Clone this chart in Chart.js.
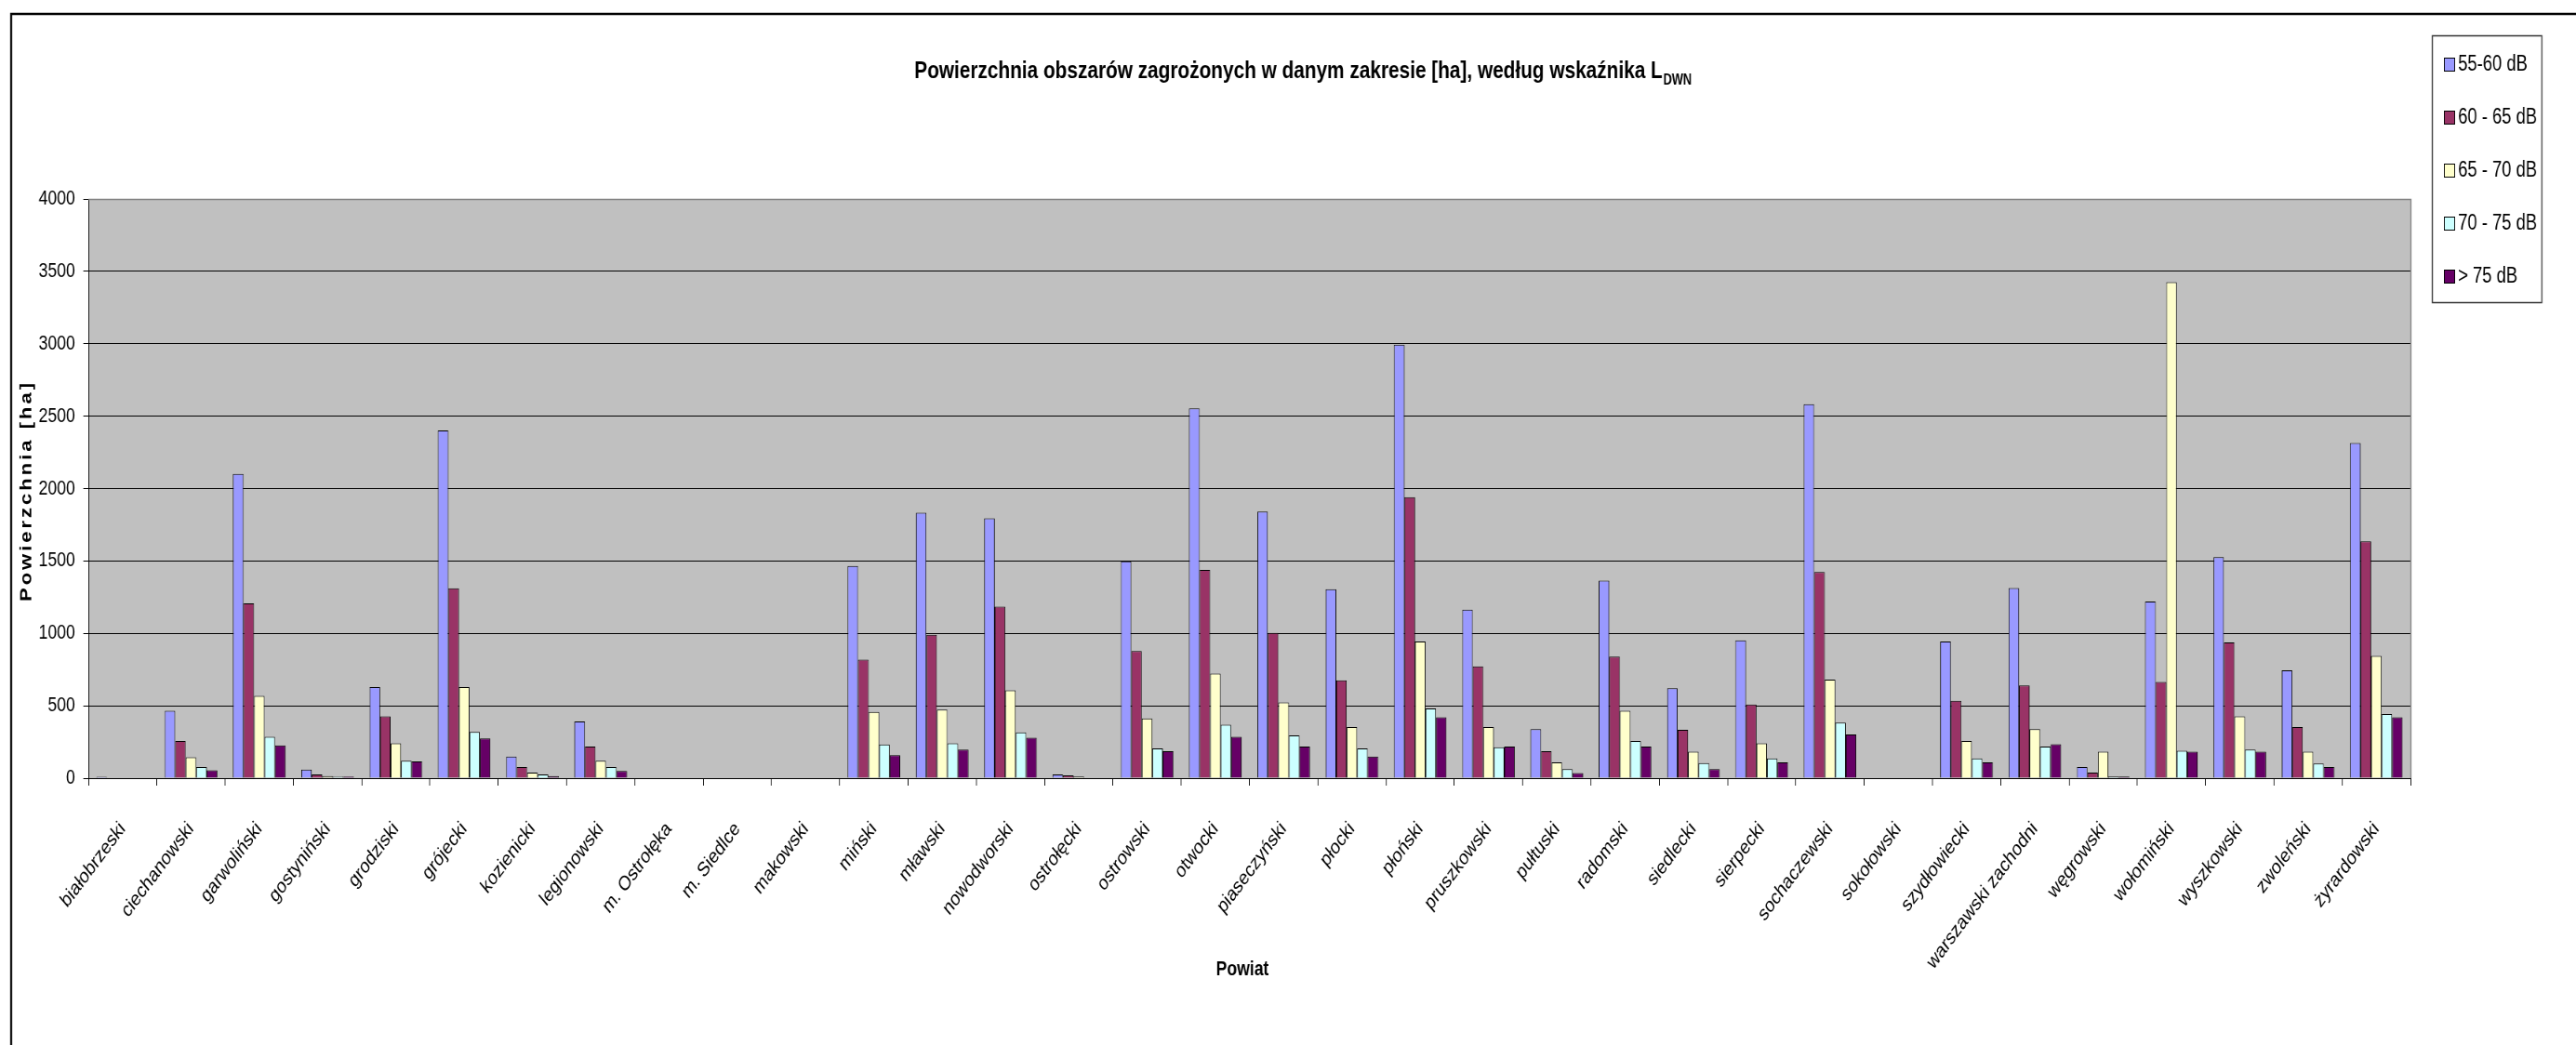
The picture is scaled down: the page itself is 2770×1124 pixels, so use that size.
<!DOCTYPE html>
<html>
<head>
<meta charset="utf-8">
<script src="https://cdn.jsdelivr.net/npm/chart.js@4/dist/chart.umd.min.js"></script>
<style>
  html, body { margin: 0; padding: 0; background: #fff; overflow: hidden; width: 2770px; height: 1124px; }
  #wrap { width: 2770px; height: 1124px; overflow: hidden; position: relative; }
  #c { position: absolute; left: 0; top: 0; transform: scaleX(0.8); transform-origin: 0 0; }
</style>
</head>
<body>
<div id="wrap"><canvas id="c" width="3463" height="1124"></canvas></div>
<script>
// ---------------- DATA ----------------
const categories = ['białobrzeski','ciechanowski','garwoliński','gostyniński','grodziski','grójecki','kozienicki','legionowski','m. Ostrołęka','m. Siedlce','makowski','miński','mławski','nowodworski','ostrołęcki','ostrowski','otwocki','piaseczyński','płocki','płoński','pruszkowski','pułtuski','radomski','siedlecki','sierpecki','sochaczewski','sokołowski','szydłowiecki','warszawski zachodni','węgrowski','wołomiński','wyszkowski','zwoleński','żyrardowski'];

const seriesNames = ['55-60 dB', '60 - 65 dB', '65 - 70 dB', '70 - 75 dB', '> 75 dB'];

const s55_60 = [10, 465, 2101, 60, 629, 2402, 150, 391, 0, 0, 0, 1466, 1833, 1795, 25, 1497, 2553, 1841, 1305, 2993, 1163, 339, 1365, 621, 952, 2583, 0, 944, 1313, 77, 1220, 1527, 744, 2315];
const s60_65 = [0, 257, 1207, 25, 427, 1311, 77, 219, 0, 0, 0, 818, 990, 1185, 19, 878, 1439, 1004, 676, 1940, 772, 186, 840, 334, 509, 1423, 0, 534, 640, 38, 665, 938, 353, 1636];
const s65_70 = [0, 145, 569, 14, 241, 629, 38, 120, 0, 0, 0, 457, 473, 607, 11, 413, 722, 523, 353, 944, 353, 109, 465, 183, 241, 681, 0, 257, 339, 183, 3425, 427, 183, 845];
const s70_75 = [0, 77, 285, 12, 120, 320, 25, 77, 0, 0, 0, 233, 241, 317, 0, 205, 369, 296, 205, 482, 213, 63, 257, 104, 137, 383, 0, 137, 219, 11, 189, 197, 101, 443];
const s75plus = [0, 55, 227, 12, 115, 274, 14, 49, 0, 0, 0, 159, 197, 279, 0, 186, 285, 219, 150, 421, 219, 36, 219, 63, 109, 301, 0, 109, 235, 11, 183, 183, 77, 421];

const yTickValues = [0, 500, 1000, 1500, 2000, 2500, 3000, 3500, 4000];

const titleMain = 'Powierzchnia obszarów zagrożonych w danym zakresie [ha], według wskaźnika L';
const titleSub = 'DWN';
const yTitle = 'Powierzchnia [ha]';
const xTitle = 'Powiat';

// ---------------- STYLE ----------------
const colors = ['#9999FF', '#993366', '#FFFFCC', '#CCFFFF', '#660066'];
const FONT = 'Arial, "Liberation Sans", sans-serif';
const W = 3463, H = 1124;
const PLOT = { left: 119, right: 3240, top: 214, bottom: 837 };

Chart.defaults.font.family = FONT;
Chart.defaults.color = '#000';

const allSeries = [s55_60, s60_65, s65_70, s70_75, s75plus];

const decor = {
  id: 'decor',
  beforeDraw(chart) {
    const { ctx, chartArea: a } = chart;
    ctx.save();
    ctx.fillStyle = '#fff';
    ctx.fillRect(0, 0, W, H);
    ctx.fillStyle = '#C0C0C0';
    ctx.fillRect(a.left, a.top, a.right - a.left, a.bottom - a.top);
    ctx.restore();
  },
  afterDraw(chart) {
    const { ctx, chartArea: a } = chart;
    ctx.save();
    // plot border (top / right)
    ctx.strokeStyle = '#808080';
    ctx.lineWidth = 1.5;
    ctx.beginPath();
    ctx.moveTo(a.left, a.top + 0.5);
    ctx.lineTo(a.right + 0.5, a.top + 0.5);
    ctx.lineTo(a.right + 0.5, a.bottom);
    ctx.stroke();

    // outer chart frame
    ctx.strokeStyle = '#000';
    ctx.lineWidth = 2.5;
    ctx.beginPath();
    ctx.moveTo(15, H + 10);
    ctx.lineTo(15, 15);
    ctx.lineTo(W + 10, 15);
    ctx.stroke();

    // title with subscript
    ctx.fillStyle = '#000';
    ctx.textAlign = 'left';
    ctx.textBaseline = 'alphabetic';
    ctx.font = 'bold 26px ' + FONT;
    const w1 = ctx.measureText(titleMain).width;
    ctx.font = 'bold 16px ' + FONT;
    const w2 = ctx.measureText(titleSub).width;
    const tx = 1751 - (w1 + w2) / 2;
    ctx.font = 'bold 26px ' + FONT;
    ctx.fillText(titleMain, tx, 84);
    ctx.font = 'bold 16px ' + FONT;
    ctx.fillText(titleSub, tx + w1 + 1, 91);

    // y axis title
    ctx.save();
    ctx.translate(36, 528);
    ctx.rotate(-Math.PI / 2);
    ctx.textAlign = 'center';
    ctx.textBaseline = 'middle';
    ctx.font = 'bold 22px ' + FONT;
    try { ctx.letterSpacing = '3px'; } catch (e) {}
    ctx.fillText(yTitle, 0, 0);
    try { ctx.letterSpacing = '0px'; } catch (e) {}
    ctx.restore();

    // x axis title
    ctx.textAlign = 'center';
    ctx.textBaseline = 'middle';
    ctx.font = 'bold 22px ' + FONT;
    ctx.fillText(xTitle, 1670, 1043);

    // legend
    const lx = 3269.5, ly = 38.5, lw = 147, lh = 287;
    ctx.fillStyle = '#fff';
    ctx.fillRect(lx, ly, lw, lh);
    ctx.strokeStyle = '#333';
    ctx.lineWidth = 1.5;
    ctx.strokeRect(lx, ly, lw, lh);
    const itemsY = [69, 126, 183, 240, 297];
    ctx.font = '23px ' + FONT;
    ctx.textAlign = 'left';
    ctx.textBaseline = 'middle';
    seriesNames.forEach((n, i) => {
      const y = itemsY[i];
      ctx.fillStyle = colors[i];
      ctx.fillRect(3285, y - 7, 15, 15);
      ctx.strokeStyle = '#000';
      ctx.lineWidth = 1;
      ctx.strokeRect(3285.5, y - 6.5, 14, 14);
      ctx.fillStyle = '#000';
      ctx.fillText(n, 3304, y + 1);
    });
    ctx.restore();
  }
};

new Chart(document.getElementById('c'), {
  type: 'bar',
  data: {
    labels: categories,
    datasets: allSeries.map((d, i) => ({
      label: seriesNames[i],
      data: d,
      backgroundColor: colors[i],
      borderColor: '#000',
      borderWidth: 1,
      categoryPercentage: 0.77,
      barPercentage: 1.0
    }))
  },
  options: {
    responsive: false,
    animation: false,
    devicePixelRatio: 1,
    layout: { padding: { left: 0, top: PLOT.top, right: W - PLOT.right, bottom: 0 } },
    plugins: { legend: { display: false }, title: { display: false }, tooltip: { enabled: false } },
    scales: {
      x: {
        offset: true,
        grid: { drawOnChartArea: false, offset: true, color: '#000', tickLength: 8, tickWidth: 1 },
        border: { color: '#000', width: 1 },
        ticks: { autoSkip: false, minRotation: 47, maxRotation: 47, color: '#000', font: { size: 22, family: FONT }, padding: 34 },
        afterFit(s) { s.height = H - PLOT.bottom; }
      },
      y: {
        min: 0, max: 4000,
        afterBuildTicks(s) { s.ticks = yTickValues.map(v => ({ value: v })); },
        grid: { color: '#000', lineWidth: 1, tickLength: 7 },
        border: { color: '#000', width: 1 },
        ticks: { color: '#000', font: { size: 22, family: FONT }, padding: 11, callback: v => String(v) },
        afterFit(s) { s.width = PLOT.left; }
      }
    }
  },
  plugins: [decor]
});
</script>
</body>
</html>
